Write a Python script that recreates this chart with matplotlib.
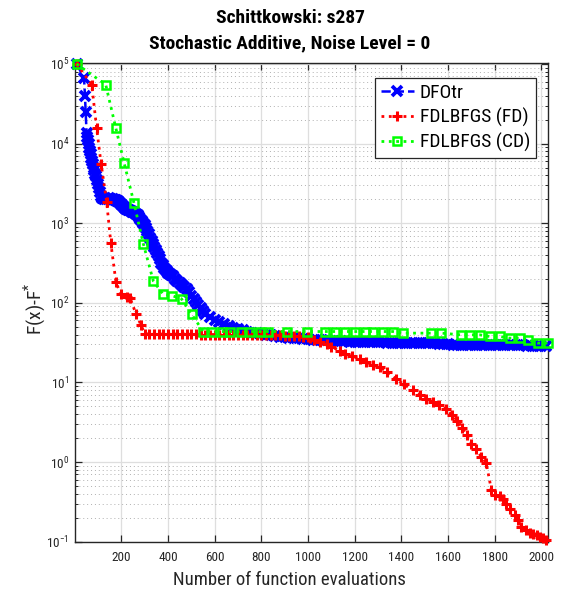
"""
Schittkowski s287: convergence of DFOtr vs FDLBFGS (FD / CD), noise level 0.
"""
import matplotlib

matplotlib.use("Agg")
import matplotlib.pyplot as plt
from matplotlib.ticker import LogLocator, NullFormatter

plt.rcParams["font.family"] = ["Roboto Condensed", "Liberation Sans", "DejaVu Sans"]

# --- data: (evaluations, F(x)-F*) ---------------------------------------------
dfo_pts = [
    (8, 1e5), (40, 6.7e4), (44, 4e4), (47, 2.5e4), (51, 1.35e4), (54, 1.2e4),
    (57, 1.1e4), (60, 1e4), (63, 8.8e3), (66, 8e3), (69, 7.3e3), (72, 6.6e3),
    (75, 6e3), (78, 5.5e3), (81, 5e3), (84, 4.6e3), (88, 4.2e3), (92, 3.9e3),
    (96, 3.5e3), (100, 3.1e3), (104, 2.8e3), (108, 2.5e3), (112, 2.2e3),
    (116, 2.1e3), (121, 2.05e3), (126, 2e3), (131, 2.05e3), (136, 2e3),
    (141, 2e3), (146, 2.05e3), (151, 2e3), (156, 2e3), (161, 1.98e3),
    (166, 2e3), (171, 1.97e3), (176, 1.95e3), (181, 1.92e3), (186, 1.88e3),
    (192, 1.82e3), (198, 1.75e3), (204, 1.68e3), (210, 1.62e3), (216, 1.57e3),
    (222, 1.52e3), (228, 1.48e3), (234, 1.45e3), (240, 1.42e3), (246, 1.4e3),
    (252, 1.38e3), (258, 1.35e3), (264, 1.3e3), (270, 1.25e3), (276, 1.2e3),
    (282, 1.13e3), (288, 1.07e3), (294, 1e3), (300, 940), (306, 870),
    (312, 800), (318, 730), (324, 660), (330, 600), (336, 550), (342, 500),
    (348, 460), (354, 420), (360, 385), (366, 350), (372, 320), (378, 295),
    (384, 275), (390, 260), (396, 248), (402, 240), (408, 232), (414, 224),
    (420, 215), (430, 200), (440, 190), (450, 178), (460, 168), (470, 158),
    (480, 148), (490, 135), (500, 123), (510, 112), (520, 102), (530, 93),
    (540, 85), (550, 78), (560, 72), (580, 66), (600, 61), (620, 57),
    (640, 54), (660, 51), (680, 48.5), (700, 46.5), (720, 45), (740, 43.5),
    (760, 42), (780, 41.5), (800, 41), (820, 40), (840, 39.2), (860, 38.5),
    (880, 37.7), (900, 37), (920, 36.6), (940, 36.2), (960, 35.8),
    (980, 35.4), (1000, 35), (1020, 34.6), (1040, 34.3), (1060, 34),
    (1080, 33.7), (1100, 33.4), (1120, 33.2), (1140, 33), (1160, 32.8),
    (1180, 32.6), (1200, 32.4), (1220, 32.2), (1240, 32.1), (1260, 32),
    (1280, 31.9), (1300, 31.8), (1320, 31.8), (1340, 31.7), (1360, 31.6),
    (1380, 31.5), (1400, 31.5), (1420, 31.4), (1440, 31.3), (1460, 31.3),
    (1480, 31.2), (1500, 31.1), (1520, 31), (1540, 31), (1560, 30.8),
    (1580, 30), (1600, 30), (1620, 29.9), (1640, 29.9), (1660, 29.8),
    (1680, 29.8), (1700, 29.7), (1720, 29.7), (1740, 29.6), (1760, 29.6),
    (1780, 29.5), (1800, 29.5), (1820, 29.4), (1840, 29.4), (1860, 29.3),
    (1880, 29.3), (1900, 29.2), (1920, 29.2), (1940, 29.1), (1960, 29.1),
    (1980, 29), (2000, 29), (2020, 28.9),
]

fd_pts = [
    (8, 1e5), (73, 5.5e4), (94, 1.57e4), (113, 5.6e3), (137, 1.86e3),
    (155, 558), (177, 181), (198, 128), (223, 120), (237, 116), (263, 72),
    (285, 52), (300, 41), (320, 40.5), (340, 40.5), (360, 40.5), (380, 40.5),
    (400, 40.5), (420, 40.5), (440, 40.5), (460, 40.5), (480, 40.5),
    (500, 40.5), (520, 40.5), (540, 40), (560, 40), (580, 40), (600, 40),
    (620, 39.5), (640, 39.5), (660, 39.5), (680, 39.5), (700, 39.5),
    (720, 39.5), (740, 39.5), (760, 39.5), (780, 39.5), (800, 39.5),
    (820, 39.5), (840, 39.5), (860, 39.5), (880, 39), (900, 38.5),
    (920, 38.5), (940, 38), (960, 38), (980, 37.5), (1000, 37), (1010, 36),
    (1025, 34), (1050, 32), (1081, 30), (1100, 28), (1138, 25), (1160, 23),
    (1190, 21.5), (1223, 19.5), (1250, 18), (1280, 16.5), (1308, 15.5),
    (1340, 13.5), (1379, 11), (1410, 9.5), (1449, 8), (1480, 7), (1506, 6.2),
    (1535, 5.7), (1563, 5.2), (1591, 4.6), (1619, 3.9), (1640, 3.3),
    (1662, 2.7), (1680, 2.2), (1700, 1.7), (1720, 1.45), (1743, 1.17),
    (1764, 0.97), (1786, 0.45), (1803, 0.39), (1821, 0.37), (1835, 0.34),
    (1850, 0.30), (1868, 0.26), (1886, 0.217), (1900, 0.185), (1914, 0.155),
    (1935, 0.14), (1950, 0.128), (1965, 0.124), (1980, 0.12), (1993, 0.116),
    (2008, 0.11), (2021, 0.105),
]

cd_pts = [
    (8, 1e5), (133, 5.5e4), (176, 1.58e4), (212, 5.7e3), (254, 1.8e3),
    (294, 553), (337, 188), (379, 128), (417, 123), (458, 112), (501, 72),
    (551, 43.6), (587, 43.6), (630, 43.6), (664, 43.6), (715, 43.6),
    (751, 43.6), (794, 43.6), (829, 43.6), (908, 43.6), (994, 43.6),
    (1072, 43.6), (1115, 43.6), (1158, 43.6), (1200, 43.6), (1243, 43.6),
    (1279, 43.6), (1322, 43.6), (1364, 43.6), (1407, 41.6), (1529, 41.6),
    (1572, 41.6), (1657, 39.6), (1693, 39.6), (1736, 39.6), (1779, 37.8),
    (1822, 37.8), (1864, 36), (1907, 36), (1943, 34.3), (1985, 31.2),
    (2028, 31.2),
]

dfo_x, dfo_y = zip(*dfo_pts)
fd_x, fd_y = zip(*fd_pts)
cd_x, cd_y = zip(*cd_pts)

x_ticks = [200, 400, 600, 800, 1000, 1200, 1400, 1600, 1800, 2000]

# --- figure ------------------------------------------------------------------
fig = plt.figure(figsize=(5.62, 5.96), dpi=100)
ax = fig.add_axes([0.1329, 0.0911, 0.8427, 0.8039])

ax.semilogy(dfo_x, dfo_y, "--", color="#0000ff", lw=1.8, marker="x",
            ms=6.5, mew=2.7, label="DFOtr", clip_on=False, zorder=3)
ax.semilogy(fd_x, fd_y, ":", color="#ff0000", lw=2, marker="+",
            ms=7, mew=2.2, label="FDLBFGS (FD)", clip_on=False, zorder=4)
ax.semilogy(cd_x, cd_y, ":", color="#00ff00", lw=2, marker="s",
            ms=5.5, mew=1.8, mfc="none", label="FDLBFGS (CD)", clip_on=False, zorder=5)

ax.set_xlim(0, 2030)
ax.set_ylim(0.1, 1.04e5)
ax.set_xticks(x_ticks)
ax.yaxis.set_major_locator(LogLocator(base=10, numticks=10))
ax.yaxis.set_minor_locator(LogLocator(base=10, subs=range(2, 10), numticks=20))
ax.yaxis.set_minor_formatter(NullFormatter())

ax.grid(True, which="major", color="#dedede", lw=0.9, ls="-")
ax.grid(True, which="minor", axis="y", color="#b0b0b0", lw=0.7, ls=(0, (1, 3)))
ax.set_axisbelow(True)

ax.tick_params(which="both", direction="in", top=True, right=True,
               colors="#262626", labelsize=9.5)
ax.tick_params(which="major", length=5, width=0.9)
ax.tick_params(which="minor", length=2.5, width=0.7)
ax.tick_params(axis="x", pad=7)
ax.tick_params(axis="y", pad=4)
for s in ax.spines.values():
    s.set_color("#262626")
    s.set_linewidth(1)

leg = ax.legend(loc="upper right", bbox_to_anchor=(0.974, 0.968),
                borderaxespad=0, fontsize=14, numpoints=1,
                handlelength=1.7, handletextpad=0.3, labelspacing=0.3,
                borderpad=0.3, fancybox=False, framealpha=1)
leg.get_frame().set_edgecolor("#262626")
leg.get_frame().set_linewidth(0.9)

fig.text(290 / 562, 1 - 18 / 596, "Schittkowski: s287", ha="center",
         va="center", fontsize=14, fontweight="bold")
fig.text(290 / 562, 1 - 43 / 596, "Stochastic Additive, Noise Level = 0",
         ha="center", va="center", fontsize=14, fontweight="bold")
fig.text(289 / 562, 1 - 580 / 596, "Number of function evaluations",
         ha="center", va="center", fontsize=13.5, color="#262626")
fig.text(36 / 562, 1 - 309 / 596, r"F(x)-F$^{\mathdefault{*}}$", ha="center",
         va="center", rotation=90, fontsize=14, color="#262626")

fig.savefig("out.png", dpi=100)
